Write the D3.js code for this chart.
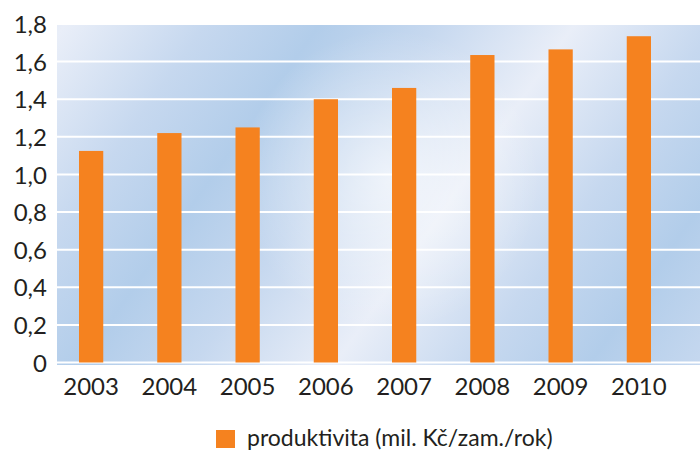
<!DOCTYPE html>
<html lang="cs">
<head>
<meta charset="UTF-8">
<title>produktivita</title>
<script src="https://cdn.jsdelivr.net/npm/d3@7"></script>
<style>
  body { margin: 0; background: #fff; }
  text { font-family: "Lato", "DejaVu Sans", sans-serif; fill: #231f20; }
</style>
</head>
<body>
<script>
// data
var years = ["2003", "2004", "2005", "2006", "2007", "2008", "2009", "2010"];
var produktivita = [1.125, 1.22, 1.25, 1.40, 1.46, 1.635, 1.665, 1.735];
var yTicks = [0, 0.2, 0.4, 0.6, 0.8, 1.0, 1.2, 1.4, 1.6, 1.8];
var legendLabel = "produktivita (mil. Kč/zam./rok)";

var width = 700, height = 451;
var plotLeft = 57, plotRight = 700, plotTop = 24, plotBottom = 365;

var svg = d3.select("body").append("svg")
    .attr("width", width)
    .attr("height", height);

// background gradient (blue with light diagonal streaks)
var defs = svg.append("defs");
var lg = defs.append("linearGradient")
    .attr("id", "bg")
    .attr("gradientUnits", "userSpaceOnUse")
    .attr("x1", 40).attr("y1", 60)
    .attr("x2", 210).attr("y2", 180)
    .attr("spreadMethod", "reflect");
lg.append("stop").attr("offset", "0%").attr("stop-color", "#e9eef8");
lg.append("stop").attr("offset", "55%").attr("stop-color", "#c6d8ef");
lg.append("stop").attr("offset", "100%").attr("stop-color", "#b2cdea");

var rg = defs.append("radialGradient")
    .attr("id", "glow")
    .attr("gradientUnits", "userSpaceOnUse")
    .attr("cx", 390).attr("cy", 180).attr("r", 150);
rg.append("stop").attr("offset", "0%").attr("stop-color", "#ffffff").attr("stop-opacity", 0.6);
rg.append("stop").attr("offset", "100%").attr("stop-color", "#ffffff").attr("stop-opacity", 0);

svg.append("rect")
    .attr("x", plotLeft).attr("y", plotTop)
    .attr("width", plotRight - plotLeft).attr("height", plotBottom - plotTop)
    .attr("fill", "url(#bg)");
svg.append("rect")
    .attr("x", plotLeft).attr("y", plotTop)
    .attr("width", plotRight - plotLeft).attr("height", plotBottom - plotTop)
    .attr("fill", "url(#glow)");

// scales
var x = d3.scaleBand()
    .domain(years)
    .range([52, 678])
    .paddingInner(0.69)
    .paddingOuter(0.345);

var y = d3.scaleLinear()
    .domain([0, 1.8])
    .range([362.5, 24]);

var fmt = function (d) { return d === 0 ? "0" : d3.format(".1f")(d).replace(".", ","); };

// grid lines
svg.append("g")
    .selectAll("line")
    .data(yTicks)
    .enter()
    .append("line")
    .attr("x1", plotLeft)
    .attr("x2", plotRight)
    .attr("y1", function (d) { return y(d); })
    .attr("y2", function (d) { return y(d); })
    .attr("stroke", "#ffffff")
    .attr("stroke-width", 2);

// bars
svg.append("g")
    .selectAll("rect")
    .data(produktivita)
    .enter()
    .append("rect")
    .attr("x", function (d, i) { return x(years[i]); })
    .attr("y", function (d) { return y(d); })
    .attr("width", x.bandwidth())
    .attr("height", function (d) { return y(0) - y(d); })
    .attr("fill", "#f5821f");

// y axis
var yAxis = svg.append("g")
    .attr("transform", "translate(" + 47 + ",0)")
    .call(d3.axisLeft(y).tickValues(yTicks).tickFormat(fmt).tickSize(0).tickPadding(0));
yAxis.select(".domain").remove();
yAxis.selectAll("text")
    .attr("font-size", "24px")
    .attr("dy", "0.36em")
    .attr("fill", "#231f20")
    .style("font-family", "Lato, 'DejaVu Sans', sans-serif");

// x axis
var xAxis = svg.append("g")
    .attr("transform", "translate(0," + plotBottom + ")")
    .call(d3.axisBottom(x).tickSize(0).tickPadding(8));
xAxis.select(".domain").remove();
xAxis.selectAll("text")
    .attr("font-size", "24px")
    .attr("dy", "0.9em")
    .attr("fill", "#231f20")
    .style("font-family", "Lato, 'DejaVu Sans', sans-serif");

// legend
var legend = svg.append("g");
legend.append("rect")
    .attr("x", 216).attr("y", 430)
    .attr("width", 19).attr("height", 18)
    .attr("fill", "#f5821f");
legend.append("text")
    .attr("x", 247).attr("y", 446)
    .attr("font-size", "23px")
    .text(legendLabel);
</script>
</body>
</html>
